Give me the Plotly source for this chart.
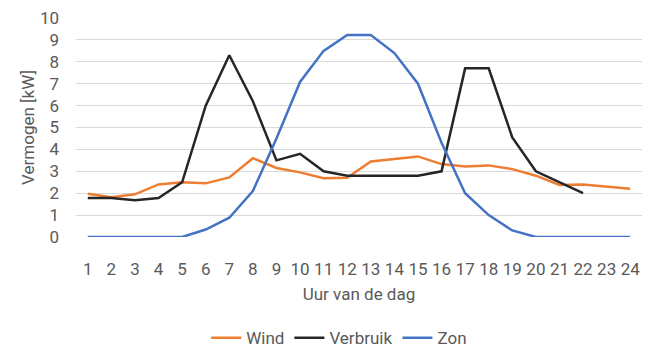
import plotly.graph_objects as go

hours = list(range(1, 25))
wind = [1.97, 1.82, 1.95, 2.4, 2.5, 2.45, 2.72, 3.6, 3.15, 2.95, 2.68, 2.7,
        3.45, 3.57, 3.68, 3.33, 3.22, 3.27, 3.1, 2.8, 2.38, 2.4, 2.3, 2.2]
verbruik = [1.78, 1.78, 1.68, 1.78, 2.5, 6.0, 8.3, 6.2, 3.5, 3.8, 3.0, 2.8,
            2.8, 2.8, 2.8, 3.0, 7.7, 7.7, 4.55, 3.0, 2.5, 2.0, None, None]
zon = [0, 0, 0, 0, 0, 0.34, 0.88, 2.1, 4.5, 7.08, 8.5, 9.22,
       9.22, 8.4, 7.0, 4.3, 2.0, 1.0, 0.3, 0, 0, 0, 0, 0]

FONT = "Roboto, sans-serif"
TXT = "#595959"

fig = go.Figure()
for name, vals, col in [("Wind", wind, "#ED7D31"),
                        ("Verbruik", verbruik, "#262626"),
                        ("Zon", zon, "#4472C4")]:
    fig.add_trace(go.Scatter(x=hours, y=vals, name=name, mode="lines",
                             line=dict(color=col, width=2.5)))

fig.update_layout(
    width=665, height=353,
    margin=dict(l=76, r=23, t=18, b=116, autoexpand=False),
    paper_bgcolor="white", plot_bgcolor="white",
    font=dict(family=FONT, size=17, color=TXT),
    showlegend=True,
    legend=dict(orientation="h", x=0.465, xanchor="center", y=-0.38, yanchor="top",
                font=dict(size=17, color=TXT), traceorder="normal",
                itemwidth=30, tracegroupgap=0),
    xaxis=dict(type="linear", range=[0.5, 24.5], tickmode="array",
               tickvals=hours, ticktext=[str(h) for h in hours],
               showgrid=False, zeroline=False, showline=False,
               ticklabelstandoff=20, automargin=False,
               title=dict(text="Uur van de dag", standoff=10,
                          font=dict(size=17, color=TXT))),
    yaxis=dict(range=[0, 10], tickvals=list(range(0, 11)),
               showgrid=True, gridcolor="#D9D9D9", gridwidth=1,
               zeroline=False, showline=False, ticklabelstandoff=16,
               automargin=False,
               title=dict(text="Vermogen [kW]", standoff=0,
                          font=dict(size=17, color=TXT))),
)

fig.write_html("out.html")
